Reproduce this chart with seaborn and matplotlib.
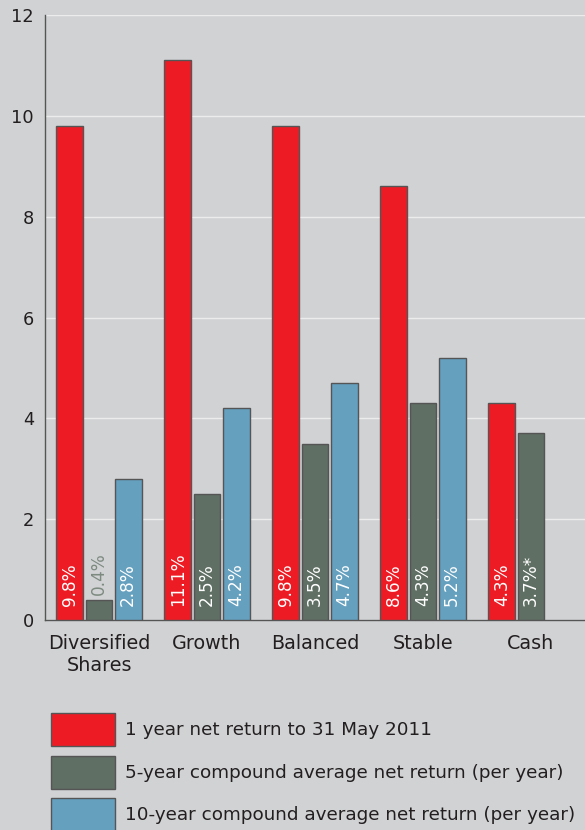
import numpy as np
import pandas as pd
import matplotlib
matplotlib.use("Agg")
import matplotlib.pyplot as plt
import seaborn as sns

categories = ["Diversified\nShares", "Growth", "Balanced", "Stable", "Cash"]
one_year = [9.8, 11.1, 9.8, 8.6, 4.3]
five_year = [0.4, 2.5, 3.5, 4.3, 3.7]
ten_year = [2.8, 4.2, 4.7, 5.2, np.nan]
series_names = ["1 year net return to 31 May 2011",
                "5-year compound average net return (per year)",
                "10-year compound average net return (per year)"]
five_labels = ["0.4%", "2.5%", "3.5%", "4.3%", "3.7%*"]
yticks = [0, 2, 4, 6, 8, 10, 12]

colors = ["#ed1c24", "#5f6f63", "#65a0bf"]
bg = "#d1d2d4"

rows = []
for i, c in enumerate(categories):
    rows.append((c, series_names[0], one_year[i]))
    rows.append((c, series_names[1], five_year[i]))
    rows.append((c, series_names[2], ten_year[i]))
df = pd.DataFrame(rows, columns=["cat", "series", "value"])

sns.set_theme(style="white")
plt.rcParams["font.family"] = ["DejaVu Sans"]

fig = plt.figure(figsize=(5.85, 8.3), dpi=100, facecolor=bg)
ax = fig.add_axes([45 / 585, 1 - 620 / 830, 1 - 45 / 585, 605 / 830])
ax.set_facecolor(bg)

sns.barplot(data=df, x="cat", y="value", hue="series", hue_order=series_names,
            order=categories, palette=colors, saturation=1, width=0.81, gap=0.08,
            edgecolor="#555555", linewidth=1.0, ax=ax, zorder=3)

ax.set_ylim(0, 12)
ax.set_xlim(-0.5, 4.5)
ax.set_yticks(yticks)
ax.set_yticklabels([str(t) for t in yticks], fontsize=12.8, color="#231f20")
ax.tick_params(axis="x", labelsize=13.8, colors="#231f20", length=0, pad=10)
ax.tick_params(axis="y", length=0, pad=8)
for lab in ax.get_xticklabels():
    lab.set_linespacing(1.2)
ax.set_xlabel("")
ax.set_ylabel("")
ax.yaxis.grid(True, color="#ececec", linewidth=1.0, zorder=0)
ax.set_axisbelow(True)
for s in ["top", "right"]:
    ax.spines[s].set_visible(False)
for s in ["left", "bottom"]:
    ax.spines[s].set_color("#555555")
    ax.spines[s].set_linewidth(1.0)

# value labels
label_sets = [[f"{v}%" for v in one_year], five_labels,
              [("" if np.isnan(v) else f"{v}%") for v in ten_year]]
for cont, labels in zip(ax.containers, label_sets):
    for bar, lab in zip(cont, labels):
        if not lab:
            continue
        x = bar.get_x() + bar.get_width() / 2
        h = bar.get_height()
        if h < 1.0:
            ax.text(x, h + 0.1, lab, rotation=90, ha="center", va="bottom",
                    color="#7d8a80", fontsize=12.2, zorder=5)
        else:
            ax.text(x, 0.28, lab, rotation=90, ha="center", va="bottom",
                    color="white", fontsize=12.2, zorder=5)

leg = ax.legend(loc="upper left", bbox_to_anchor=(51 / 585, 1 - 713 / 830),
                bbox_transform=fig.transFigure, frameon=False, fontsize=13.2,
                handlelength=3.5, handleheight=2.4, labelspacing=0.52,
                handletextpad=0.55, borderaxespad=0, borderpad=0,
                labelcolor="#231f20")
for h in leg.legend_handles:
    h.set_edgecolor("#555555")
    h.set_linewidth(1.0)

fig.savefig("out.png", dpi=100, facecolor=bg)
